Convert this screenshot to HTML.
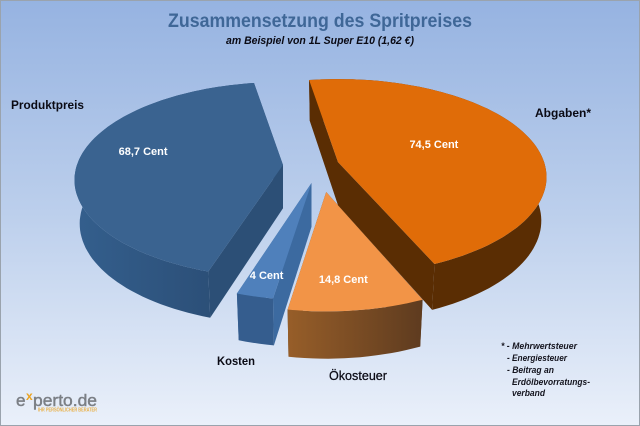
<!DOCTYPE html>
<html lang="de">
<head>
<meta charset="utf-8">
<title>Zusammensetzung des Spritpreises</title>
<style>
html,body{margin:0;padding:0;background:#fff}
svg{display:block}
text{font-family:"Liberation Sans",sans-serif}
</style>
</head>
<body>
<svg id="chart" xmlns="http://www.w3.org/2000/svg" width="640" height="426" viewBox="0 0 640 426">
<defs>
<linearGradient id="bg" x1="0" y1="0" x2="0" y2="1">
<stop offset="0" stop-color="#96B3E1"/>
<stop offset="0.5" stop-color="#BCCFEC"/>
<stop offset="1" stop-color="#EAF0FA"/>
</linearGradient>
<linearGradient id="wall-produkt" x1="0" y1="0" x2="1" y2="0">
<stop offset="0" stop-color="#345F8D"/>
<stop offset="1" stop-color="#294A71"/>
</linearGradient>
<linearGradient id="wall-oeko" x1="0" y1="0" x2="1" y2="0">
<stop offset="0" stop-color="#975E29"/>
<stop offset="1" stop-color="#5E3B1F"/>
</linearGradient>
</defs>
<rect x="0.5" y="0.5" width="639" height="425" fill="url(#bg)" stroke="#9AA3AD" stroke-width="1"/>
<text x="168" y="27" font-size="19" font-weight="bold" fill="#3F6797" textLength="304" lengthAdjust="spacingAndGlyphs">Zusammensetzung des Spritpreises</text>
<text x="226" y="44" font-size="11" font-weight="bold" font-style="italic" fill="#0a0a14" textLength="188" lengthAdjust="spacingAndGlyphs">am Beispiel von 1L Super E10 (1,62 €)</text>
<g id="slices"></g>
<text x="11" y="109" font-size="12" font-weight="bold" fill="#0a0a14" textLength="73" lengthAdjust="spacingAndGlyphs">Produktpreis</text>
<text x="535" y="117" font-size="12" font-weight="bold" fill="#0a0a14" textLength="56" lengthAdjust="spacingAndGlyphs">Abgaben*</text>
<text x="217" y="365" font-size="12" font-weight="bold" fill="#0a0a14" textLength="38" lengthAdjust="spacingAndGlyphs">Kosten</text>
<text x="329" y="380" font-size="13" fill="#0a0a14" stroke="#0a0a14" stroke-width="0.25" textLength="58" lengthAdjust="spacingAndGlyphs">Ökosteuer</text>
<g font-size="9" font-weight="bold" font-style="italic" fill="#14141e">
<text x="501" y="349" textLength="76" lengthAdjust="spacingAndGlyphs">* - Mehrwertsteuer</text>
<text x="507" y="361" textLength="60" lengthAdjust="spacingAndGlyphs">- Energiesteuer</text>
<text x="507" y="373" textLength="47" lengthAdjust="spacingAndGlyphs">- Beitrag an</text>
<text x="512" y="385" textLength="78" lengthAdjust="spacingAndGlyphs">Erdölbevorratungs-</text>
<text x="512" y="396" textLength="33" lengthAdjust="spacingAndGlyphs">verband</text>
</g>
<g>
<text x="16" y="406" font-size="17" fill="#7B7F85" stroke="#7B7F85" stroke-width="0.45" textLength="9.5" lengthAdjust="spacingAndGlyphs">e</text>
<text x="26" y="400" font-size="12" font-weight="bold" fill="#EBA21E">x</text>
<text x="33" y="406" font-size="17" fill="#7B7F85" stroke="#7B7F85" stroke-width="0.45" textLength="64" lengthAdjust="spacingAndGlyphs">perto.de</text>
<text x="38" y="411.5" font-size="5" font-weight="bold" fill="#E9B14A" textLength="59" lengthAdjust="spacingAndGlyphs">IHR PERSÖNLICHER BERATER</text>
</g>
</svg>
<script>
// Chart data, clockwise from the start angle
const categories = ["Abgaben", "Ökosteuer", "Kosten", "Produktpreis"];
const values = [74.5, 14.8, 4, 68.7];
const explosion = [0.14, 0.276, 0.174, 0.13];
const valueUnit = "Cent";

// Chart layout
const startAngle = -9.3;
const explodeSkew = [0, -9, -16, 0];
const labelRadius = [0.479, 0.942, 1.013, 0.677];
const labelSkew = [0.4, 2.3, -1.3, 3.4];
const topColors = ["#E06C08", "#F29447", "#4F80BB", "#3A6390"];
const wallColors = ["#5A2D03", "url(#wall-oeko)", "#355D8E", "url(#wall-produkt)"];
const cutColors = ["#5A2D03", "#5E3B1F", "#3C6AA0", "#2C4F76"];
const drawOrder = [3, 2, 1, 0];
const baseX = 310, baseY = 166, radiusX = 208.5, radiusY = 98, tilt = 0.153;
const floorShrink = 0.975;

const NS = "http://www.w3.org/2000/svg";
const root = document.getElementById("slices");
const rad = d => d * Math.PI / 180;
const total = values.reduce((a, b) => a + b, 0);
const angleOf = v => v / total * 360;
const depthAt = y => 41 + 0.027 * (y - 80);
const fmt = p => p[0].toFixed(1) + "," + p[1].toFixed(1);

function pointOnRim(apex, ry, deg) {
  const up = Math.cos(rad(deg)), side = Math.sin(rad(deg));
  const d = 1 + tilt * up;
  const yy = (up + tilt) / d;
  const xx = side * Math.sqrt(1 - tilt * tilt) / d;
  return [apex[0] + radiusX * xx, apex[1] + tilt * ry - ry * yy];
}
const lowerFrom = (apex, p) => [apex[0] + (p[0] - apex[0]) * floorShrink, p[1] + depthAt(p[1])];

function addPolygon(group, pts, fill, name) {
  const el = document.createElementNS(NS, "polygon");
  el.setAttribute("points", pts.map(fmt).join(" "));
  el.setAttribute("fill", fill);
  
  
  group.appendChild(el);
}

let running = startAngle;
const spans = values.map(v => { const a = running; running += angleOf(v); return [a, running]; });

drawOrder.forEach(i => {
  const [a0, a1] = spans[i];
  const mid = (a0 + a1) / 2;
  const bearing = rad(mid + explodeSkew[i]);
  const dy = -explosion[i] * Math.cos(bearing) * radiusY;
  const apex = [baseX + explosion[i] * Math.sin(bearing) * radiusX, baseY + dy];
  const ry = radiusY * (1 + 0.0022 * Math.max(dy, 0));
  const lower = p => lowerFrom(apex, p);

  const rim = [];
  const steps = Math.max(4, Math.ceil((a1 - a0) / 2));
  for (let s = 0; s <= steps; s++) rim.push(pointOnRim(apex, ry, a0 + (a1 - a0) * s / steps));

  const key = categories[i].toLowerCase().replace("ö", "oe");
  const g = document.createElementNS(NS, "g");
  
  

  addPolygon(g, [apex, rim[0], lower(rim[0]), lower(apex)], cutColors[i], "cut-start-" + key);
  addPolygon(g, [apex, rim[steps], lower(rim[steps]), lower(apex)], cutColors[i], "cut-end-" + key);
  addPolygon(g, rim.concat(rim.map(lower).reverse()), wallColors[i], "wall-" + key);
  addPolygon(g, [apex].concat(rim), topColors[i], "top-" + key);

  const r = labelRadius[i];
  const labelAngle = rad(mid + labelSkew[i]);
  const tx = apex[0] + r * Math.sin(labelAngle) * radiusX;
  const ty = apex[1] - r * Math.cos(labelAngle) * radiusY - 5;
  const label = document.createElementNS(NS, "text");
  label.setAttribute("x", tx.toFixed(1));
  label.setAttribute("y", (ty + 4).toFixed(1));
  label.setAttribute("text-anchor", "middle");
  label.setAttribute("font-size", "11");
  label.setAttribute("font-weight", "bold");
  label.setAttribute("fill", "#FFFFFF");
  
  
  label.textContent = String(values[i]).replace(".", ",") + " " + valueUnit;
  g.appendChild(label);
  root.appendChild(g);
});
</script>
</body>
</html>
